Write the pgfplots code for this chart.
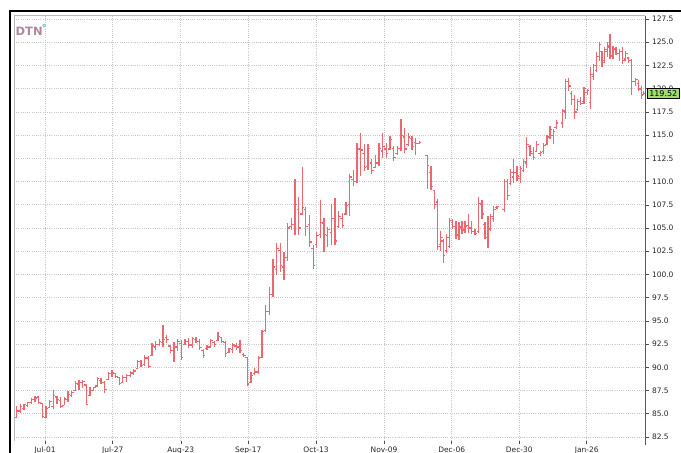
\documentclass[border=0pt]{standalone}
\usepackage{fontspec}
\setmainfont{DejaVu Sans}
\usepackage{pgfplots}
\pgfplotsset{compat=1.18}
\usepackage{pgfplotstable}
\definecolor{barcol}{RGB}{236,104,110}
\definecolor{gridc}{RGB}{198,198,198}
\definecolor{dtn}{RGB}{176,136,156}
\definecolor{lastg}{RGB}{158,222,106}
\definecolor{dtndot}{RGB}{110,200,200}
\pgfdeclareplotmark{otick}{\pgfpathmoveto{\pgfqpoint{-\pgfplotmarksize}{0pt}}\pgfpathlineto{\pgfqpoint{0pt}{0pt}}\pgfusepathqstroke}
\pgfdeclareplotmark{ctick}{\pgfpathmoveto{\pgfqpoint{0pt}{0pt}}\pgfpathlineto{\pgfqpoint{\pgfplotmarksize}{0pt}}\pgfusepathqstroke}

\pgfplotstableread{
x o h l c
16.7 84.6 85.8 84.5 85.3
20.4 85.3 86.1 85.1 85.8
24.0 85.6 86.1 85.4 86.0
27.7 85.9 86.3 85.7 86.2
31.3 86.2 86.7 86.1 86.5
35.0 86.5 86.9 86.3 86.7
38.7 86.8 86.9 86.0 86.2
42.3 86.1 86.2 84.5 84.7
46.0 84.6 85.8 84.5 85.6
49.6 85.7 86.5 85.6 86.3
53.3 85.8 87.6 85.5 87.0
57.0 86.8 86.9 86.1 86.5
60.6 86.4 86.8 85.6 85.8
64.3 85.9 86.8 85.9 86.6
67.9 86.5 87.4 86.3 87.1
71.6 87.0 87.5 86.8 87.3
75.3 87.5 88.5 87.4 88.3
78.9 88.2 88.6 87.6 88.4
82.6 88.4 88.6 87.8 88.5
86.2 88.1 88.2 85.9 86.0
89.9 87.0 87.9 86.9 87.5
93.6 87.5 87.9 87.4 87.8
97.2 88.0 89.0 87.9 88.8
100.9 88.6 88.8 88.2 88.4
104.5 88.4 88.5 87.2 87.6
108.2 88.7 89.5 88.6 89.3
111.9 89.3 89.7 89.0 89.4
115.5 89.3 89.4 88.8 89.0
119.2 88.9 89.0 88.1 88.3
122.8 88.4 89.2 88.3 88.9
126.5 88.9 89.3 88.4 89.1
130.2 89.1 89.6 89.0 89.4
133.8 89.4 89.8 89.2 89.6
137.5 89.9 90.8 89.8 90.6
141.1 90.6 90.8 90.0 90.2
144.8 90.3 91.3 90.1 91.0
148.5 91.0 91.2 89.9 90.1
152.1 91.3 92.6 91.2 92.3
155.8 92.2 92.8 91.9 92.5
159.4 92.5 93.0 92.3 92.8
163.1 92.7 94.6 92.2 93.0
166.8 93.2 93.5 92.6 93.0
170.4 92.3 92.4 91.5 91.8
174.1 91.8 92.7 90.6 92.2
177.7 92.2 93.0 91.8 92.8
181.4 92.6 92.9 90.8 91.1
185.1 92.5 93.0 92.4 92.8
188.7 92.8 93.2 92.1 92.4
192.4 92.4 93.3 92.1 93.1
196.0 93.0 93.3 92.6 92.8
199.7 92.8 93.1 91.9 92.1
203.4 91.8 92.0 91.0 91.3
207.0 92.0 92.4 91.9 92.2
210.7 92.2 93.1 92.1 92.9
214.3 92.7 92.8 92.2 92.5
218.0 92.9 93.8 92.8 93.3
221.7 93.2 93.3 92.6 92.8
225.3 92.7 92.8 91.1 91.5
229.0 91.6 92.1 91.5 92.0
232.6 91.9 92.6 91.5 92.4
236.3 92.3 92.6 91.9 92.2
240.0 92.2 92.9 91.5 91.8
243.6 91.4 91.5 91.1 91.3
247.3 91.1 91.1 88.0 88.2
250.9 88.4 89.5 88.3 89.1
254.6 89.3 89.9 89.2 89.5
258.3 89.5 91.2 89.3 91.0
261.9 91.1 94.0 91.0 93.9
265.6 94.0 96.7 93.8 96.0
269.2 96.0 98.7 95.6 97.8
272.9 97.8 101.7 97.6 100.8
276.6 100.5 103.4 99.9 102.8
280.2 102.6 103.4 100.3 101.0
283.9 100.8 102.4 99.4 101.8
287.5 101.8 105.5 101.4 105.0
291.2 105.2 106.1 104.8 105.4
294.9 105.4 110.3 104.2 107.5
298.5 107.0 108.3 104.3 105.0
302.2 106.5 111.6 106.4 107.2
305.8 107.0 107.3 104.1 105.2
309.5 105.4 106.4 103.0 103.5
313.2 102.8 103.2 100.6 101.0
316.8 103.2 104.6 102.8 104.2
320.5 104.3 108.0 103.9 105.6
324.1 105.5 106.1 102.4 104.3
327.8 104.2 105.1 103.0 104.8
331.5 104.5 107.6 103.2 106.0
335.1 106.0 108.2 103.2 103.6
338.8 105.2 106.8 105.0 106.2
342.4 106.0 106.6 105.0 105.3
346.1 106.5 107.8 106.4 107.4
349.8 107.5 110.8 106.3 110.5
353.4 110.2 111.3 109.5 110.0
357.1 110.0 114.2 109.9 113.5
360.7 113.5 115.2 110.6 113.4
364.4 113.0 114.0 111.1 111.5
368.1 111.6 114.0 111.3 113.6
371.7 112.0 112.4 110.8 111.2
375.4 111.5 112.9 111.5 112.0
379.0 112.0 114.2 111.7 113.6
382.7 113.3 115.2 112.5 113.8
386.4 113.5 114.2 112.5 113.0
390.0 113.5 114.9 113.4 114.5
393.7 113.6 113.8 112.2 112.6
397.3 113.0 113.8 112.9 113.6
401.0 113.6 116.7 113.3 115.0
404.7 114.8 115.8 113.1 113.5
408.3 114.0 115.2 113.8 114.8
412.0 114.6 114.9 113.4 113.8
415.6 114.2 114.7 112.9 114.1
419.3 114.1 114.4 114.0 114.2
427.3 112.8 112.9 109.2 111.7
431.0 111.0 111.7 109.1 109.5
434.7 109.0 109.0 107.1 107.5
437.6 107.8 108.1 102.6 103.0
440.5 103.2 104.7 102.5 104.0
443.4 103.6 103.8 101.2 102.0
446.5 102.6 104.4 102.3 104.0
449.7 103.0 106.1 102.8 105.8
452.6 105.6 106.0 104.9 105.2
455.9 105.2 105.8 103.8 104.2
459.0 104.3 105.6 103.7 105.2
461.9 105.0 105.8 104.4 104.7
465.0 104.8 105.8 104.5 105.2
468.3 105.3 106.5 104.5 105.0
471.7 105.0 105.8 104.4 104.6
475.0 104.6 104.9 104.2 104.4
478.7 104.6 108.3 104.5 107.6
482.0 107.5 108.0 106.0 106.5
485.0 105.4 105.6 103.8 104.0
487.9 104.0 106.3 102.8 104.8
490.7 104.9 106.5 104.7 106.2
493.8 106.0 107.4 105.6 107.0
497.0 107.2 107.4 107.1 107.3
504.3 107.0 110.3 106.7 110.0
507.5 110.0 110.3 108.0 108.5
510.6 109.8 111.4 109.6 111.0
513.7 110.5 112.4 109.9 111.0
517.0 111.0 111.7 110.1 110.6
520.3 110.3 111.7 109.9 111.4
523.7 111.2 112.4 111.0 112.2
526.8 112.0 114.8 111.5 114.0
530.0 113.8 113.9 112.8 113.2
533.4 113.0 113.7 112.3 112.6
536.8 113.2 114.4 113.2 114.0
540.2 113.0 113.3 112.8 113.1
543.6 113.2 114.2 113.0 113.9
547.0 114.0 115.0 113.9 114.8
550.1 114.8 116.0 114.6 115.6
553.2 115.0 115.7 114.1 115.4
556.2 115.8 116.6 115.7 116.3
562.5 116.3 117.8 115.8 117.6
565.5 117.5 121.0 116.7 120.8
568.6 120.8 121.2 119.8 120.3
571.6 119.5 119.8 118.2 118.8
574.6 118.8 119.3 116.7 117.5
577.6 117.8 118.9 117.6 118.6
580.6 118.6 119.1 118.2 118.4
584.0 118.6 120.2 118.4 120.0
587.3 119.6 120.0 119.3 119.8
590.5 118.5 122.3 117.8 121.5
593.5 121.3 122.7 120.9 122.5
596.5 122.0 123.9 121.8 123.5
599.2 123.5 125.0 123.0 124.8
602.0 124.0 124.1 122.3 122.8
604.8 123.0 124.5 122.8 124.2
607.4 124.0 125.0 123.4 124.6
610.1 124.5 125.9 123.2 123.5
612.9 123.6 124.6 123.2 124.3
615.9 124.2 124.5 123.6 123.8
619.2 123.8 124.3 123.0 124.0
622.5 124.0 124.5 122.7 123.0
625.8 123.2 124.1 123.0 123.8
628.8 123.3 123.4 122.8 123.0
631.8 123.0 123.2 119.3 120.8
635.5 120.8 121.2 120.3 121.0
638.5 120.6 120.9 119.8 120.0
641.3 119.9 120.3 118.9 119.3
643.8 119.4 119.8 119.3 119.52
}\ohlc

\begin{document}
\begin{tikzpicture}
\useasboundingbox (0pt,0pt) rectangle (681pt,453pt);
\begin{axis}[
  at={(14pt,12pt)}, anchor=south west, scale only axis,
  width=631pt, height=425.3pt,
  xmin=14, xmax=645, ymin=82.07, ymax=127.86,
  axis line style={draw=none},
  xtick pos=bottom, ytick pos=right, yticklabel pos=right,
  tick align=outside, major tick length=3.5pt,
  tick style={black!70, line width=0.6pt},
  grid=major,
  major grid style={gridc, dash pattern=on 1pt off 1.2pt, line width=0.7pt},
  ytick={82.5,85,87.5,90,92.5,95,97.5,100,102.5,105,107.5,110,112.5,115,117.5,120,122.5,125,127.5},
  xtick={45,112.7,180.8,248.3,316,384,451.7,519.3,586.7},
  xticklabels={Jul-01,Jul-27,Aug-23,Sep-17,Oct-13,Nov-09,Dec-06,Dec-30,Jan-26},
  ticklabel style={font=\fontsize{7.5}{9}\selectfont, text=black!85},
  xticklabel style={yshift=1pt},
  yticklabel style={/pgf/number format/.cd, fixed, fixed zerofill, precision=1, assume math mode=true},
]
\addplot[draw=none, mark=none, forget plot,
  error bars/.cd, y dir=plus, y explicit, error mark=none,
  error bar style={draw=barcol, line width=1.3pt}]
  table[x=x, y=l, y error expr=\thisrow{h}-\thisrow{l}] {\ohlc};
\addplot[barcol, only marks, mark=otick, mark size=2pt, mark options={draw=barcol, line width=1.2pt}] table[x=x, y=o] {\ohlc};
\addplot[barcol, only marks, mark=ctick, mark size=2pt, mark options={draw=barcol, line width=1.2pt}] table[x=x, y=c] {\ohlc};
\coordinate (lp) at (axis cs:645,119.52);
\end{axis}
\draw[gray!55, line width=0.6pt] (14pt,12pt) -- (14pt,437.3pt) -- (645pt,437.3pt);
\draw[black!65, line width=1pt] (645pt,8pt) -- (645pt,437.3pt);
\draw[black, line width=1.8pt] (10.3pt,0pt) -- (10.3pt,441.7pt) -- (681pt,441.7pt);
\node[anchor=west, draw=black, line width=0.5pt, fill=lastg, inner xsep=2.5pt, inner ysep=2.2pt, font=\fontsize{8}{9}\selectfont] at ([xshift=1.5pt]lp) {119.52};
\node[anchor=west, text=dtn, font=\bfseries\fontsize{11.5}{13}\selectfont, inner sep=0pt] at (15.5pt,422pt) {DTN};
\draw[dtndot, line width=0.7pt] (44pt,427.5pt) circle (1.4pt);
\end{tikzpicture}
\end{document}
